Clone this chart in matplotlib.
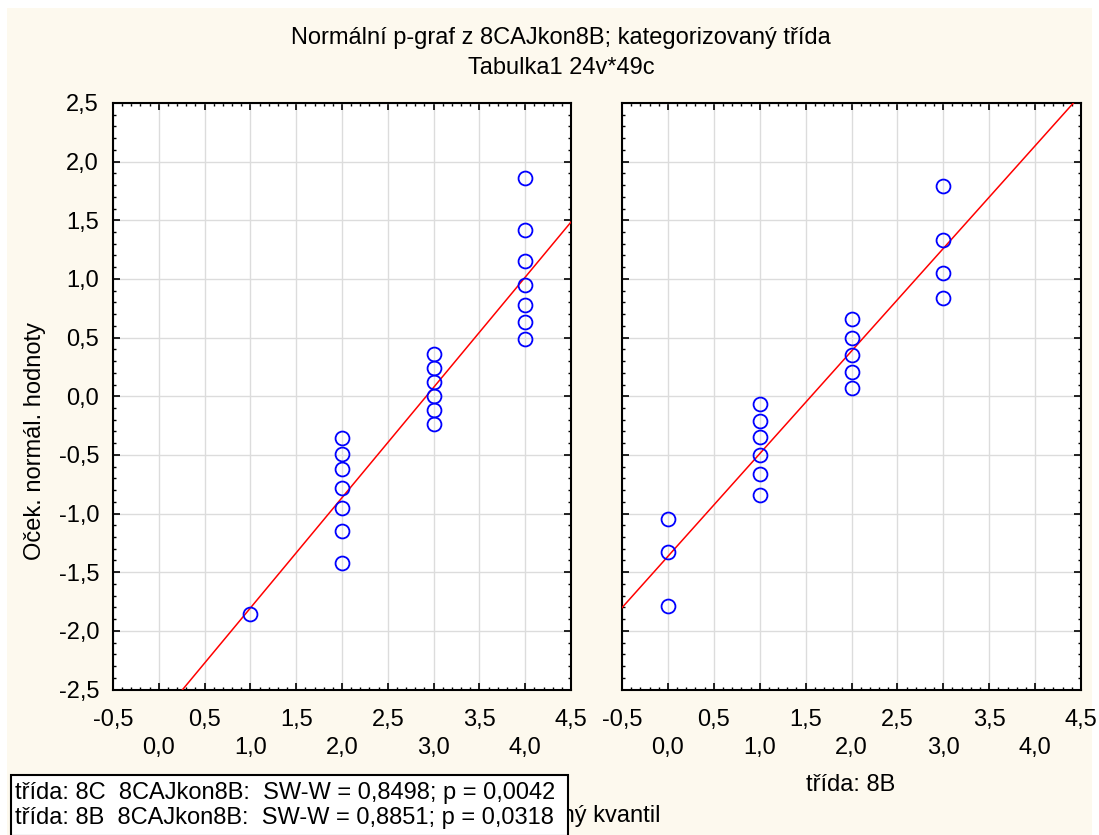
import numpy as np
import matplotlib
matplotlib.use("Agg")
import matplotlib.pyplot as plt
from matplotlib.ticker import MultipleLocator, FuncFormatter, NullFormatter
from matplotlib.patches import Rectangle

plt.rcParams["font.family"] = ["Liberation Sans", "DejaVu Sans"]

# observed values (x) and expected normal scores (y) per class
x_8c = [1, 2, 2, 2, 2, 2, 2, 2, 3, 3, 3, 3, 3, 3, 4, 4, 4, 4, 4, 4, 4]
y_8c = [-1.86,
        -0.36, -0.49, -0.62, -0.78, -0.95, -1.15, -1.42,
        0.36, 0.24, 0.12, 0.00, -0.12, -0.24,
        1.86, 1.42, 1.15, 0.95, 0.78, 0.63, 0.49]

x_8b = [0, 0, 0, 1, 1, 1, 1, 1, 1, 2, 2, 2, 2, 2, 3, 3, 3, 3]
y_8b = [-1.79, -1.33, -1.05,
        -0.84, -0.66, -0.50, -0.35, -0.21, -0.07,
        0.07, 0.21, 0.35, 0.50, 0.66,
        0.84, 1.05, 1.33, 1.79]

# reference lines: y = slope * (x - center)
line_8c = (0.94, 2.92)
line_8b = (0.875, 1.56)

upper_ticks = [-0.5, 0.5, 1.5, 2.5, 3.5, 4.5]
lower_ticks = [0.0, 1.0, 2.0, 3.0, 4.0]

class_label_8b = "třída: 8B"
stats_lines = ["třída: 8C  8CAJkon8B:  SW-W = 0,8498; p = 0,0042",
               "třída: 8B  8CAJkon8B:  SW-W = 0,8851; p = 0,0318"]

W, H = 1099, 835
BG = "#fdf9ee"
FS = 17
AX_TOP, AX_BOT = 103, 689.5

fig = plt.figure(figsize=(W / 100, H / 100), dpi=100, facecolor="white")
fig.patches.append(Rectangle((7 / W, 0), (1092 - 7) / W, 1 - 8 / H,
                             transform=fig.transFigure, facecolor=BG,
                             edgecolor="none", zorder=-10))


def px(x, y):
    return x / W, 1 - y / H


def comma(v, pos=None):
    return f"{v:.1f}".replace(".", ",")


def row_y(y_pixel):
    # pixel row below the axes -> axes fraction
    return (AX_BOT - y_pixel) / (AX_BOT - AX_TOP)


def setup_axes(ax, show_ylabels):
    ax.set_xlim(-0.5, 4.5)
    ax.set_ylim(-2.5, 2.5)
    ax.set_facecolor("white")
    ax.xaxis.set_major_locator(MultipleLocator(0.5))
    ax.yaxis.set_major_locator(MultipleLocator(0.5))
    ax.xaxis.set_minor_locator(MultipleLocator(0.1))
    ax.yaxis.set_minor_locator(MultipleLocator(0.1))
    ax.grid(True, which="major", color="#dcdcdc", linewidth=1.0, zorder=0)
    ax.set_axisbelow(True)
    ax.tick_params(which="both", direction="in", top=True, right=True,
                   colors="black", labelsize=FS)
    ax.tick_params(which="major", length=5, width=1.2)
    ax.tick_params(which="minor", length=2.5, width=1.0)
    for s in ax.spines.values():
        s.set_linewidth(1.5)
        s.set_color("black")
    # two staggered rows of x labels
    ax.xaxis.set_major_formatter(NullFormatter())
    trans = ax.get_xaxis_transform()
    for v in upper_ticks:
        ax.text(v, row_y(720), comma(v), transform=trans,
                ha="center", va="center", fontsize=FS)
    for v in lower_ticks:
        ax.text(v, row_y(748), comma(v), transform=trans,
                ha="center", va="center", fontsize=FS)
    if show_ylabels:
        ax.yaxis.set_major_formatter(FuncFormatter(comma))
        ax.tick_params(axis="y", pad=10)
    else:
        ax.yaxis.set_major_formatter(NullFormatter())


ax1 = fig.add_axes([113 / W, 1 - AX_BOT / H, 458 / W, (AX_BOT - AX_TOP) / H])
ax2 = fig.add_axes([622 / W, 1 - AX_BOT / H, 459 / W, (AX_BOT - AX_TOP) / H])

for ax, xs, ys, (slope, center), show in [
        (ax1, x_8c, y_8c, line_8c, True),
        (ax2, x_8b, y_8b, line_8b, False)]:
    setup_axes(ax, show)
    lx = np.array([-0.5, 4.5])
    ax.plot(lx, slope * (lx - center), color="#ff0000", linewidth=1.1,
            zorder=3)
    ax.plot(xs, ys, linestyle="none", marker="o", markersize=10,
            markerfacecolor="none", markeredgecolor="#0000ff",
            markeredgewidth=1.3, zorder=4)

# titles and axis labels
fig.text(*px(561, 38), "Normální p-graf z 8CAJkon8B; kategorizovaný třída",
         ha="center", va="center", fontsize=FS)
fig.text(*px(561, 68), "Tabulka1 24v*49c", ha="center", va="center",
         fontsize=FS)
fig.text(*px(35, 441), "Oček. normál. hodnoty", rotation=90,
         ha="center", va="center", fontsize=FS)
fig.text(*px(851, 785), class_label_8b, ha="center", va="center",
         fontsize=FS)
fig.text(*px(661, 816), "Pozorovaný kvantil", ha="right", va="center",
         fontsize=FS)

# statistics box
fig.patches.append(Rectangle(px(11, 836), (568 - 11) / W, (836 - 775) / H,
                             transform=fig.transFigure, facecolor="white",
                             edgecolor="black", linewidth=1.5, zorder=5))
fig.text(*px(15, 793), stats_lines[0], ha="left", va="center",
         fontsize=FS, zorder=6)
fig.text(*px(15, 818), stats_lines[1], ha="left", va="center",
         fontsize=FS, zorder=6)

fig.savefig("out.png", dpi=100, facecolor="white")
